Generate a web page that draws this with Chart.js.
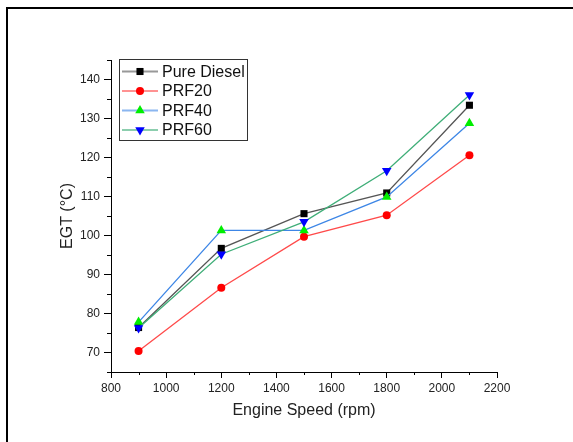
<!DOCTYPE html>
<html>
<head>
<meta charset="utf-8">
<script src="https://cdn.jsdelivr.net/npm/chart.js@4"></script>
<style>
  html, body { margin: 0; padding: 0; background: #fff; }
  #wrap { width: 573px; height: 442px; }
</style>
</head>
<body>
<div id="wrap"><canvas id="egtChart"></canvas></div>
<script>
(function() {
    'use strict';

    // data
    const speeds = [900, 1200, 1500, 1800, 2100];
    const seriesNames = ['Pure Diesel', 'PRF20', 'PRF40', 'PRF60'];
    const pureDiesel = [76.4, 96.7, 105.6, 110.9, 133.4];
    const prf20 = [70.4, 86.6, 99.7, 105.2, 120.6];
    const prf40 = [77.8, 101.3, 101.3, 109.9, 128.8];
    const prf60 = [76.3, 95.2, 103.5, 116.6, 136.0];

    const xRange = [800, 2200];
    const yRange = [65, 145];

    const toPoints = (vals) => vals.map((v, i) => ({ x: speeds[i], y: v }));

    Chart.defaults.font.family = '"Liberation Sans", Arial, sans-serif';
    Chart.defaults.color = '#222';

    const pageFrame = {
        id: 'pageFrame',
        beforeDraw(chart) {
            const ctx = chart.ctx;
            ctx.save();
            ctx.fillStyle = '#fff';
            ctx.fillRect(0, 0, chart.width, chart.height);
            ctx.strokeStyle = '#000';
            ctx.lineWidth = 2;
            ctx.strokeRect(7, 8, 800, 800);
            ctx.restore();
        }
    };

    // minor ticks (major ones come from chart.js grid)
    const minorTicks = {
        id: 'minorTicks',
        afterDraw(chart) {
            const ctx = chart.ctx;
            const xs = chart.scales.x, ys = chart.scales.y;
            ctx.save();
            ctx.strokeStyle = '#000';
            ctx.lineWidth = 1;
            ctx.beginPath();
            for (let v = xRange[0] + 100; v < xRange[1]; v += 200) {
                const px = Math.round(xs.getPixelForValue(v)) + 0.5;
                ctx.moveTo(px, xs.top);
                ctx.lineTo(px, xs.top + 3);
            }
            for (let v = yRange[0]; v <= yRange[1]; v += 10) {
                const py = Math.round(ys.getPixelForValue(v)) + 0.5;
                ctx.moveTo(ys.right, py);
                ctx.lineTo(ys.right - 4, py);
            }
            ctx.stroke();
            ctx.restore();
        }
    };

    // boxed legend sitting inside the plot, like the original
    const boxLegend = {
        id: 'boxLegend',
        afterDraw(chart) {
            const ctx = chart.ctx;
            const sets = chart.data.datasets;
            ctx.save();
            ctx.strokeStyle = '#333';
            ctx.lineWidth = 1;
            ctx.strokeRect(119.5, 59.5, 128, 81);
            ctx.font = '16px "Liberation Sans", Arial, sans-serif';
            ctx.textBaseline = 'middle';
            sets.forEach((ds, i) => {
                const y = 71.5 + i * 19.5;
                ctx.globalAlpha = 0.6;
                ctx.strokeStyle = ds.borderColor;
                ctx.lineWidth = 2;
                ctx.beginPath();
                ctx.moveTo(122, y);
                ctx.lineTo(158, y);
                ctx.stroke();
                ctx.globalAlpha = 1;
                ctx.fillStyle = ds.pointBackgroundColor;
                Chart.helpers.drawPoint(ctx, {
                    pointStyle: ds.pointStyle,
                    radius: ds.pointRadius,
                    rotation: ds.pointRotation || 0,
                    borderWidth: 0
                }, 140, y);
                ctx.fillStyle = '#111';
                ctx.fillText(ds.label, 162, y + 1);
            });
            ctx.restore();
        }
    };

    const makeSet = (label, vals, line, mark, style, radius, rot, order) => ({
        label: label,
        data: toPoints(vals),
        borderColor: line,
        borderWidth: 1.3,
        pointStyle: style,
        pointRadius: radius,
        pointHoverRadius: radius,
        pointRotation: rot,
        pointBackgroundColor: mark,
        pointBorderColor: mark,
        pointBorderWidth: 0,
        tension: 0,
        order: order
    });

    const el = document.getElementById('egtChart');
    new Chart(el.getContext('2d'), {
        type: 'line',
        data: {
            datasets: [
                makeSet(seriesNames[0], pureDiesel, '#555555', '#000000', 'rect', 5, 0, 4),
                makeSet(seriesNames[1], prf20, '#ff4a4a', '#ff0000', 'circle', 4, 0, 3),
                makeSet(seriesNames[2], prf40, '#3d86e6', '#00ee00', 'triangle', 5.5, 0, 2),
                makeSet(seriesNames[3], prf60, '#3fae78', '#0000ff', 'triangle', 5.5, 180, 1)
            ]
        },
        options: {
            responsive: true,
            maintainAspectRatio: false,
            animation: false,
            layout: { padding: { left: 0, top: 60, right: 76, bottom: 0 } },
            plugins: {
                legend: { display: false },
                tooltip: { enabled: false }
            },
            scales: {
                x: {
                    type: 'linear',
                    min: xRange[0],
                    max: xRange[1],
                    border: { display: true, color: '#000', width: 1 },
                    grid: {
                        drawOnChartArea: false,
                        tickLength: 6,
                        tickColor: (c) => (c.tick && c.tick.value % 200 === 0) ? '#000' : 'rgba(0,0,0,0)'
                    },
                    ticks: {
                        stepSize: 100,
                        padding: 3,
                        font: { size: 12 },
                        color: '#222',
                        maxRotation: 0,
                        autoSkip: false,
                        callback: (v) => v % 200 === 0 ? String(v) : ''
                    },
                    title: {
                        display: true,
                        text: 'Engine Speed (rpm)',
                        font: { size: 16 },
                        color: '#222',
                        padding: { top: 4, bottom: 22 }
                    },
                    afterFit(s) {
                        s.height = 70;
                        s.paddingLeft = 0;
                        s.paddingRight = 0;
                    }
                },
                y: {
                    min: yRange[0],
                    max: yRange[1],
                    border: { display: true, color: '#000', width: 1 },
                    grid: {
                        drawOnChartArea: false,
                        tickLength: 7,
                        tickColor: (c) => (c.tick && c.tick.value % 10 === 0) ? '#000' : 'rgba(0,0,0,0)'
                    },
                    ticks: {
                        stepSize: 5,
                        padding: 4,
                        font: { size: 12 },
                        color: '#222',
                        autoSkip: false,
                        callback: (v) => v % 10 === 0 ? String(v) : ''
                    },
                    title: {
                        display: true,
                        text: 'EGT (°C)',
                        font: { size: 16 },
                        color: '#222',
                        padding: { top: 58, bottom: 0 }
                    },
                    afterFit(s) {
                        s.width = 111;
                        s.paddingTop = 0;
                        s.paddingBottom = 0;
                    }
                }
            }
        },
        plugins: [pageFrame, minorTicks, boxLegend]
    });
})();
</script>
</body>
</html>
